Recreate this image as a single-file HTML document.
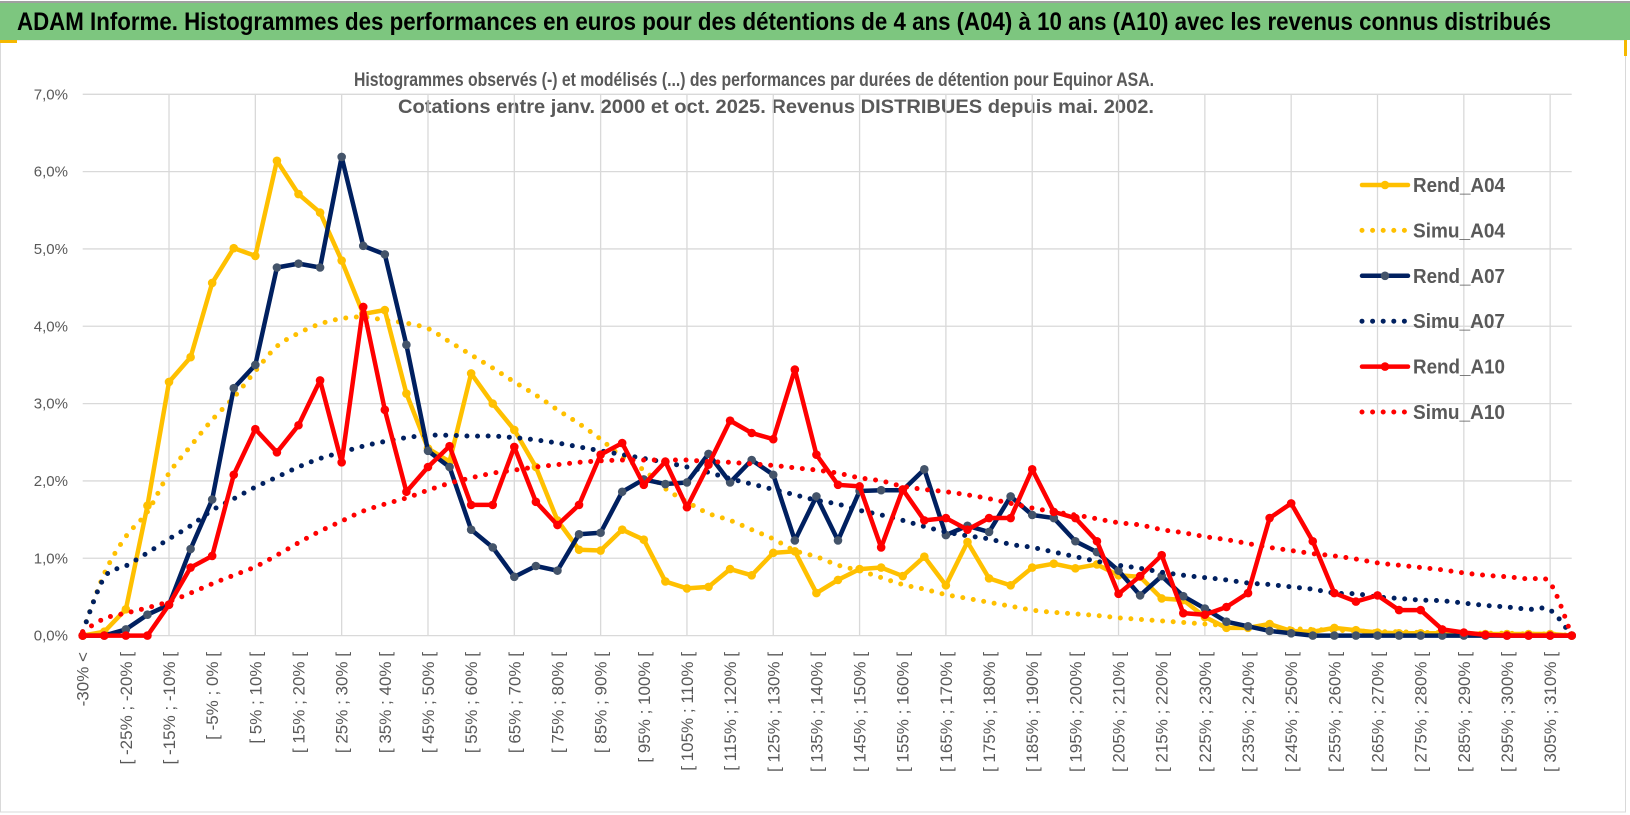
<!DOCTYPE html>
<html><head><meta charset="utf-8">
<style>
html,body{margin:0;padding:0;background:#fff;}
svg{display:block;font-family:"Liberation Sans",sans-serif;}
</style></head>
<body>
<svg id="chart" width="1630" height="815" viewBox="0 0 1630 815" xmlns="http://www.w3.org/2000/svg">
  <rect x="0" y="0" width="1630" height="815" fill="#fff"/>
  <rect x="0.5" y="40" width="1625" height="772" fill="none" stroke="#d9d9d9" stroke-width="1"/>
  <rect x="0" y="2" width="1630" height="38" fill="#7dc67f"/>
  <line x1="0" y1="2" x2="1630" y2="2" stroke="#a0a0a0" stroke-width="2"/>
  <rect x="0" y="40" width="17" height="3" fill="#f5b800"/>
  <rect x="1624" y="40" width="3" height="16" fill="#f5b800"/>
  <text x="17" y="30" font-size="25" font-weight="bold" fill="#000" textLength="1534" lengthAdjust="spacingAndGlyphs">ADAM Informe. Histogrammes des performances en euros pour des détentions de 4 ans (A04) à 10 ans (A10) avec les revenus connus distribués</text>
  <text x="354" y="86" font-size="19" font-weight="bold" fill="#595959" textLength="800" lengthAdjust="spacingAndGlyphs">Histogrammes observés (-) et modélisés (...) des performances par durées de détention pour Equinor ASA.</text>
  <text x="398" y="113" font-size="19" font-weight="bold" fill="#595959" textLength="756" lengthAdjust="spacingAndGlyphs">Cotations entre janv. 2000 et oct. 2025. Revenus DISTRIBUES depuis mai. 2002.</text>
  <g id="grid"></g>
  <g id="yaxis"></g>
  <g id="xaxis"></g>
  <g id="series"></g>
  <g id="legend"></g>
</svg>
<script>
const yTicks = [0,1,2,3,4,5,6,7];
const rendA04 = [0,0.05,0.34,1.68,3.28,3.60,4.56,5.01,4.91,6.14,5.71,5.47,4.85,4.16,4.21,3.13,2.42,2.25,3.39,3.00,2.66,2.18,1.49,1.11,1.10,1.37,1.24,0.70,0.61,0.63,0.86,0.78,1.07,1.09,0.55,0.72,0.86,0.88,0.77,1.02,0.65,1.21,0.74,0.65,0.88,0.93,0.87,0.92,0.78,0.76,0.48,0.46,0.24,0.10,0.10,0.15,0.06,0.05,0.10,0.07,0.04,0.03,0.03,0.03,0.03,0.02,0.02,0.02,0.02,0];
const simuA04 = [0.05,0.80,1.28,1.60,2.10,2.45,2.79,3.08,3.42,3.74,3.91,4.03,4.10,4.12,4.08,4.04,3.97,3.80,3.63,3.46,3.28,3.11,2.92,2.74,2.54,2.31,2.14,1.90,1.73,1.58,1.49,1.37,1.25,1.10,1.02,0.91,0.84,0.75,0.66,0.60,0.53,0.48,0.43,0.38,0.33,0.30,0.28,0.26,0.23,0.21,0.19,0.17,0.15,0.13,0.12,0.10,0.09,0.08,0.07,0.06,0.05,0.05,0.04,0.04,0.03,0.03,0.03,0.02,0.02,0];
const rendA07 = [0,0,0.08,0.27,0.40,1.12,1.76,3.20,3.50,4.76,4.81,4.76,6.19,5.04,4.93,3.76,2.39,2.18,1.37,1.14,0.76,0.90,0.84,1.31,1.33,1.86,2.02,1.96,1.98,2.35,1.98,2.27,2.08,1.23,1.80,1.23,1.87,1.88,1.88,2.15,1.30,1.42,1.34,1.80,1.56,1.52,1.22,1.08,0.84,0.52,0.77,0.51,0.35,0.18,0.12,0.06,0.03,0,0,0,0,0,0,0,0,0,0,0,0,0];
const simuA07 = [0.05,0.75,0.90,1.07,1.25,1.42,1.62,1.77,1.92,2.05,2.18,2.29,2.37,2.45,2.51,2.56,2.59,2.59,2.58,2.58,2.56,2.53,2.49,2.44,2.39,2.34,2.29,2.24,2.18,2.11,2.03,1.96,1.89,1.82,1.75,1.70,1.62,1.56,1.49,1.41,1.34,1.29,1.25,1.18,1.14,1.08,1.02,0.96,0.91,0.87,0.82,0.78,0.75,0.72,0.68,0.66,0.63,0.60,0.55,0.54,0.50,0.48,0.46,0.45,0.42,0.39,0.37,0.34,0.33,0];
const rendA10 = [0,0,0,0,0.40,0.88,1.03,2.08,2.67,2.37,2.72,3.30,2.24,4.25,2.92,1.86,2.18,2.45,1.69,1.69,2.44,1.73,1.43,1.69,2.34,2.49,1.95,2.25,1.66,2.21,2.78,2.62,2.54,3.44,2.34,1.95,1.93,1.14,1.89,1.49,1.52,1.37,1.52,1.52,2.15,1.60,1.52,1.22,0.54,0.77,1.04,0.29,0.27,0.37,0.55,1.52,1.71,1.22,0.55,0.44,0.52,0.33,0.33,0.08,0.04,0.01,0,0,0,0];
const simuA10 = [0.05,0.22,0.29,0.36,0.44,0.55,0.67,0.78,0.89,1.04,1.20,1.35,1.48,1.61,1.70,1.78,1.88,1.97,2.04,2.10,2.14,2.18,2.21,2.24,2.26,2.27,2.27,2.27,2.27,2.25,2.24,2.22,2.20,2.17,2.14,2.10,2.04,2.00,1.93,1.89,1.86,1.82,1.77,1.71,1.65,1.60,1.56,1.51,1.46,1.43,1.37,1.33,1.28,1.24,1.19,1.14,1.10,1.06,1.03,0.99,0.94,0.91,0.88,0.85,0.81,0.78,0.76,0.73,0.68,0];
const legendNames = ["Rend_A04","Simu_A04","Rend_A07","Simu_A07","Rend_A10","Simu_A10"];

const NS = "http://www.w3.org/2000/svg";
const N = rendA04.length;
const X0 = 82.7, DX = 21.58, Y0 = 635.6, DY = 77.33;
function xPos(i){ return X0 + DX*i; }
function yPos(v){ return Y0 - DY*v; }
function mk(tag, attrs, parent){
  const e = document.createElementNS(NS, tag);
  for (const k in attrs) e.setAttribute(k, attrs[k]);
  parent.appendChild(e);
  return e;
}
function catLabel(i){
  if (i === 0) return "-30% <";
  if (i === N-1) return "> 310%";
  const a = (i-1)*5 - 30;
  return "[ " + a + "% ; " + (a+5) + "% [";
}

const grid = document.getElementById('grid');
const xLeft = xPos(0), xRight = xPos(N-1);
yTicks.forEach(t => {
  const l = mk('line', {x1:xLeft, x2:xRight, y1:yPos(t), y2:yPos(t), stroke:'#d9d9d9', 'stroke-width':1.3}, grid);
  
  
});
for (let i = 4; i < N; i += 4) {
  const l = mk('line', {x1:xPos(i), x2:xPos(i), y1:yPos(7), y2:yPos(0), stroke:'#d9d9d9', 'stroke-width':1.3}, grid);
  
  
}

const yaxis = document.getElementById('yaxis');
yTicks.forEach(t => {
  const tx = mk('text', {x:68, y:yPos(t)+5, 'text-anchor':'end', 'font-size':15, fill:'#595959'}, yaxis);
  
  
  tx.textContent = t.toFixed(1).replace('.', ',') + '%';
});

const xaxis = document.getElementById('xaxis');
for (let i = 0; i < N; i += 2) {
  const x = xPos(i) + 6, y = 652;
  const tx = mk('text', {x:x, y:y, 'text-anchor':'end', 'font-size':17, fill:'#595959', transform:'rotate(-90 '+x+' '+y+')'}, xaxis);
  
  
  tx.textContent = catLabel(i);
}

function straightPath(vals){
  return vals.map((v,i) => (i ? 'L' : 'M') + xPos(i).toFixed(2) + ' ' + yPos(v).toFixed(2)).join(' ');
}
function smoothPath(vals){
  const p = vals.map((v,i) => [xPos(i), yPos(v)]);
  let d = 'M' + p[0][0] + ' ' + p[0][1];
  for (let i = 0; i < p.length-1; i++) {
    const p0 = p[Math.max(0,i-1)], p1 = p[i], p2 = p[i+1], p3 = p[Math.min(p.length-1,i+2)];
    const c1x = p1[0] + (p2[0]-p0[0])/6, c1y = p1[1] + (p2[1]-p0[1])/6;
    const c2x = p2[0] - (p3[0]-p1[0])/6, c2y = p2[1] - (p3[1]-p1[1])/6;
    d += ' C' + c1x.toFixed(2) + ' ' + c1y.toFixed(2) + ' ' + c2x.toFixed(2) + ' ' + c2y.toFixed(2) + ' ' + p2[0].toFixed(2) + ' ' + p2[1].toFixed(2);
  }
  return d;
}

const series = document.getElementById('series');
function drawRend(vals, color, marker, name){
  const g = mk('g', {}, series);
  
  
  const p = mk('path', {d:straightPath(vals), fill:'none', stroke:color, 'stroke-width':4.5, 'stroke-linejoin':'round'}, g);
  
  
  vals.forEach((v,i) => {
    const c = mk('circle', {cx:xPos(i), cy:yPos(v), r:4.3, fill:marker}, g);
    
    
  });
}
function drawSimu(vals, color, name){
  const p = mk('path', {d:smoothPath(vals), fill:'none', stroke:color, 'stroke-width':5, 'stroke-linecap':'round', 'stroke-dasharray':'0 10.6'}, series);
  
  
}
drawRend(rendA04, '#ffc000', '#ffc000', 'rend-a04');
drawSimu(simuA04, '#ffc000', 'simu-a04');
drawRend(rendA07, '#002060', '#44546a', 'rend-a07');
drawSimu(simuA07, '#002060', 'simu-a07');
drawRend(rendA10, '#ff0000', '#ff0000', 'rend-a10');
drawSimu(simuA10, '#ff0000', 'simu-a10');

const legend = document.getElementById('legend');
const legColors = ['#ffc000','#ffc000','#002060','#002060','#ff0000','#ff0000'];
const legMarkers = ['#ffc000',null,'#44546a',null,'#ff0000',null];
legendNames.forEach((nm, k) => {
  const y = 185 + k*45.4;
  const g = mk('g', {}, legend);
  
  
  if (legMarkers[k]) {
    mk('line', {x1:1362, x2:1408, y1:y, y2:y, stroke:legColors[k], 'stroke-width':4.5, 'stroke-linecap':'round'}, g);
    mk('circle', {cx:1385, cy:y, r:4.3, fill:legMarkers[k]}, g);
  } else {
    mk('line', {x1:1362, x2:1408, y1:y, y2:y, stroke:legColors[k], 'stroke-width':5, 'stroke-linecap':'round', 'stroke-dasharray':'0 10.6'}, g);
  }
  const t = mk('text', {x:1413, y:y+7, 'font-size':20, 'font-weight':'bold', fill:'#595959', textLength:92, lengthAdjust:'spacingAndGlyphs'}, g);
  
  
  t.textContent = nm;
});
</script>
</body></html>
